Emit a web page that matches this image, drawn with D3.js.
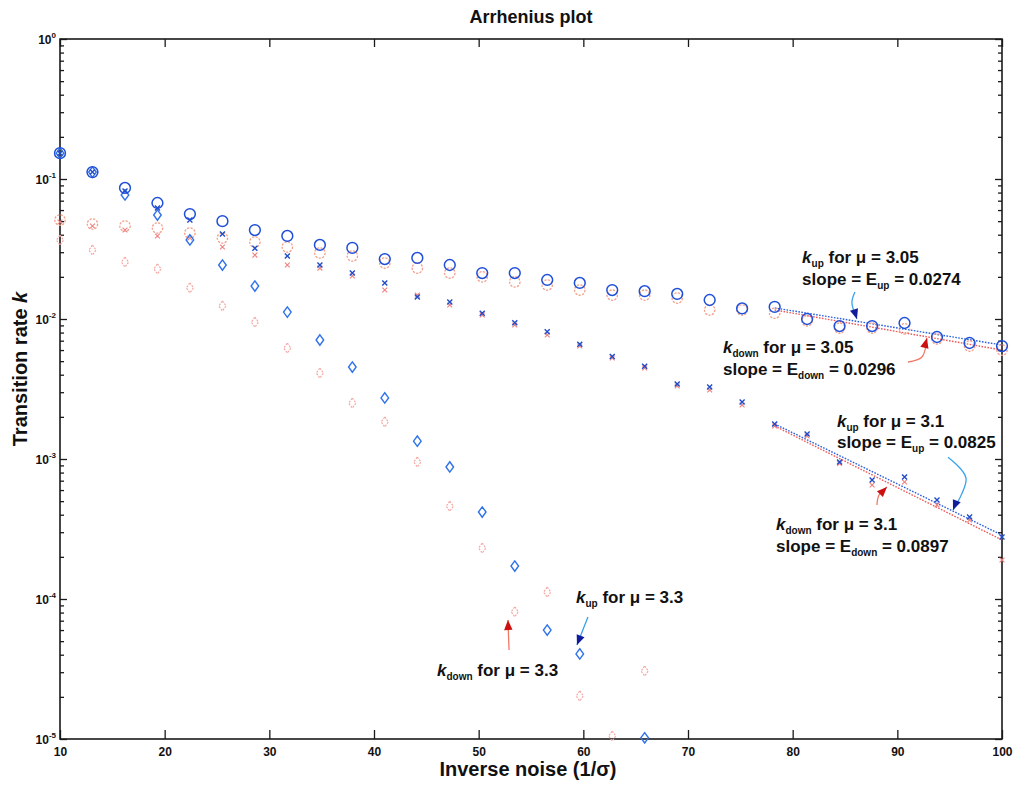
<!DOCTYPE html>
<html><head><meta charset="utf-8">
<script src="https://cdn.jsdelivr.net/npm/d3@7"></script>
<style>
body{margin:0;background:#fff}
svg{display:block}
text{font-family:"Liberation Sans",Arial,Helvetica,sans-serif;font-weight:bold;fill:#111}
</style>
</head><body>
<svg id="c" width="1013" height="787"></svg>
<script>
// ---------- data ----------
const inverseNoise = [10, 13.10, 16.21, 19.31, 22.41, 25.52, 28.62, 31.72, 34.83, 37.93,
  41.03, 44.14, 47.24, 50.34, 53.45, 56.55, 59.66, 62.76, 65.86, 68.97,
  72.07, 75.17, 78.28, 81.38, 84.48, 87.59, 90.69, 93.79, 96.90, 100];

const kUp305 = [0.153, 0.112, 0.0863, 0.0674, 0.0562, 0.0500, 0.0432, 0.0392, 0.0338, 0.0322,
  0.0268, 0.0273, 0.0243, 0.0213, 0.0213, 0.0190, 0.0181, 0.0161, 0.0158, 0.0151,
  0.01367, 0.0119, 0.0122, 0.0100, 0.0089, 0.0089, 0.00936, 0.00744, 0.00674, 0.00641];
const kDown305 = [0.0509, 0.0477, 0.0462, 0.0447, 0.0411, 0.0379, 0.0355, 0.0327, 0.0296, 0.0282,
  0.0251, 0.0231, 0.0213, 0.0200, 0.0184, 0.0175, 0.0161, 0.0148, 0.0148, 0.0141,
  0.0116, 0.0116, 0.0110, 0.0097, 0.0086, 0.0086, 0.0085, 0.0072, 0.0064, 0.0060];
const kUp31 = [0.153, 0.112, 0.082, 0.062, 0.051, 0.0405, 0.032, 0.0282, 0.0243, 0.0213,
  0.0181, 0.01436, 0.0132, 0.0110, 0.0094, 0.0081, 0.0066, 0.0054, 0.0046, 0.00343,
  0.00327, 0.00255, 0.00178, 0.00151, 0.00095, 0.000708, 0.000744, 0.00051, 0.000385, 0.000277];
const kDown31 = [0.0493, 0.0462, 0.0432, 0.0392, 0.0379, 0.0327, 0.0286, 0.0243, 0.0231, 0.0203,
  0.0161, 0.0148, 0.0126, 0.0107, 0.00906, 0.00769, 0.00641, 0.00527, 0.00447, 0.00332,
  0.00311, 0.00243, 0.00172, 0.00146, 0.00093, 0.000652, 0.000685, 0.000469, 0.000367, 0.00019];
const kUp33 = [0.153, 0.112, 0.0769, 0.0553, 0.0367, 0.0243, 0.0172, 0.0112, 0.00708, 0.00454,
  0.00273, 0.00134, 0.000877, 0.000418, 0.000172, 0.000060, 0.0000405, null, 0.0000102, null,
  null, null, null, null, null, null, null, null, null, null];
const kDown33 = [0.0366, 0.0311, 0.0255, 0.0228, 0.0167, 0.0124, 0.0095, 0.0062, 0.00411, 0.00251,
  0.00184, 0.000952, 0.00046, 0.000231, 0.000081, 0.000112, 0.0000203, 0.0000105, 0.0000306, null,
  null, null, null, null, null, null, null, null, null, null];

// fitted lines (start/end in data units)
const fitX = [78.28, 100];
const fitUp305 = [0.0120, 0.00652];
const fitDown305 = [0.0116, 0.0060];
const fitUp31 = [0.00178, 0.000286];
const fitDown31 = [0.00172, 0.000264];

// tick labels
const xTicks = [10, 20, 30, 40, 50, 60, 70, 80, 90, 100];
const yExponents = [0, -1, -2, -3, -4, -5];

// annotation texts
const annSub = ["up", "down", "up", "down", "up", "down"];
const annMu = ["3.05", "3.05", "3.1", "3.1", "3.3", "3.3"];
const annE = ["0.0274", "0.0296", "0.0825", "0.0897", null, null];

// ---------- layout ----------
const svg = d3.select("#c");
const x = d3.scaleLinear().domain([10, 100]).range([60, 1002]);
const y = d3.scaleLog().domain([1e-5, 1]).range([739, 39]);
const axisColor = "#1a1a1a";

// annotation anchor positions (data units) and arrow paths (data units)
const annPos = [[80.9, 0.0251], [73.34, 0.00571], [84.23, 0.001693], [78.41, 0.000311], [59.3, 0.0000936], [46.02, 0.0000282]];
const arrows = [
  {pts: [[85.95, 0.01559], [85.66, 0.0131], [86.14, 0.0100]], tail: "#3aa2ea", head: "#101c9c"},
  {pts: [[91.02, 0.00493], [92.35, 0.00535], [92.83, 0.00731]], tail: "#f07a68", head: "#cc1010"},
  {pts: [[94.84, 0.00103], [96.56, 0.000731], [95.32, 0.000432]], tail: "#3aa2ea", head: "#101c9c"},
  {pts: [[88.05, 0.000469], [88.25, 0.000553], [89.01, 0.000631]], tail: "#f07a68", head: "#cc1010"},
  {pts: [[60.44, 0.0000743], [59.39, 0.0000469]], tail: "#3aa2ea", head: "#101c9c"},
  {pts: [[52.9, 0.0000432], [52.8, 0.0000708]], tail: "#f07a68", head: "#cc1010"}
];

// ---------- axes ----------
const minorTicks = [];
for (let e = -5; e < 0; e++) for (let m = 2; m <= 9; m++) minorTicks.push(m * Math.pow(10, e));
const majorTicks = yExponents.map(e => Math.pow(10, e));

const gAx = svg.append("g");
gAx.append("g").attr("transform", `translate(0,${y.range()[0]})`)
  .call(d3.axisBottom(x).tickValues(xTicks).tickSize(-9).tickPadding(8).tickFormat(d3.format("d")))
  .call(g => g.select(".domain").remove())
  .call(g => g.selectAll("text").attr("font-size", 12).attr("font-family", "Liberation Sans, Arial, sans-serif").attr("font-weight", "bold").attr("fill", "#111"));
gAx.append("g").attr("transform", `translate(0,${y.range()[1]})`)
  .call(d3.axisTop(x).tickValues(xTicks).tickSize(-8).tickFormat(""))
  .call(g => g.select(".domain").remove());
gAx.append("g").attr("transform", `translate(${x.range()[0]},0)`)
  .call(d3.axisLeft(y).tickValues(majorTicks).tickSize(-7).tickFormat(""))
  .call(g => g.select(".domain").remove());
gAx.append("g").attr("transform", `translate(${x.range()[0]},0)`)
  .call(d3.axisLeft(y).tickValues(minorTicks).tickSize(-4).tickFormat(""))
  .call(g => g.select(".domain").remove());
gAx.append("g").attr("transform", `translate(${x.range()[1]},0)`)
  .call(d3.axisRight(y).tickValues(majorTicks).tickSize(-7).tickFormat(""))
  .call(g => g.select(".domain").remove());
gAx.append("g").attr("transform", `translate(${x.range()[1]},0)`)
  .call(d3.axisRight(y).tickValues(minorTicks).tickSize(-4).tickFormat(""))
  .call(g => g.select(".domain").remove());
gAx.selectAll(".tick line").attr("stroke", axisColor).attr("stroke-width", 1.3);

svg.append("rect").attr("x", x.range()[0]).attr("y", y.range()[1])
  .attr("width", x.range()[1] - x.range()[0]).attr("height", y.range()[0] - y.range()[1])
  .attr("fill", "none").attr("stroke", axisColor).attr("stroke-width", 1.6);

const yl = svg.append("g");
yExponents.forEach(e => {
  const t = yl.append("text").attr("x", 56).attr("y", y(Math.pow(10, e)) + 4.5)
    .attr("text-anchor", "end").attr("font-size", 12);
  t.append("tspan").text("10");
  t.append("tspan").attr("dy", -6).attr("font-size", 8).text(String(e));
});

svg.append("text").attr("x", (x.range()[0] + x.range()[1]) / 2).attr("y", 23)
  .attr("text-anchor", "middle").attr("font-size", 18).text("Arrhenius plot");
svg.append("text").attr("x", 528).attr("y", 776).attr("text-anchor", "middle")
  .attr("font-size", 20).text("Inverse noise (1/σ)");
const yt = svg.append("text").attr("transform", "translate(27,369) rotate(-90)")
  .attr("text-anchor", "middle").attr("font-size", 20);
yt.append("tspan").text("Transition rate ");
yt.append("tspan").attr("font-style", "italic").text("k");

// ---------- fitted lines ----------
const fits = [
  {k: fitDown305, c: "#ec5a5a"}, {k: fitUp305, c: "#2a60dc"},
  {k: fitDown31, c: "#ec5a5a"}, {k: fitUp31, c: "#2a60dc"}
];
const lineGen = d3.line().x(d => x(d[0])).y(d => y(d[1]));
fits.forEach(f => {
  svg.append("path").attr("d", lineGen(fitX.map((v, i) => [v, f.k[i]])))
    .attr("fill", "none").attr("stroke", f.c).attr("stroke-width", 1.4)
    .attr("stroke-dasharray", "1.6,1.4");
});

// ---------- markers ----------
const circ = r => `M${r},0A${r},${r},0,1,1,${-r},0A${r},${r},0,1,1,${r},0Z`;
const cross = s => `M${-s},${-s}L${s},${s}M${-s},${s}L${s},${-s}`;
const diamond = (w, h) => `M0,${-h}L${w},0L0,${h}L${-w},0Z`;

const series = [
  {vals: kDown33, path: diamond(3.6, 5), c: "#f4a8a4", w: 1.2, dash: "2,1.2"},
  {vals: kDown31, path: cross(2.4), c: "#f08080", w: 1.1, dash: null},
  {vals: kDown305, path: circ(5.2), c: "#f2a08a", w: 1.3, dash: "2.2,1.3"},
  {vals: kUp33, path: diamond(3.8, 5.2), c: "#2f72ea", w: 1.4, dash: null},
  {vals: kUp31, path: cross(2.5), c: "#1f4cc8", w: 1.4, dash: null},
  {vals: kUp305, path: circ(5.4), c: "#1f4fd8", w: 1.5, dash: null}
];
series.forEach(s => {
  svg.append("g").selectAll("path")
    .data(inverseNoise.map((v, i) => [v, s.vals[i]]).filter(d => d[1] != null))
    .join("path")
    .attr("transform", d => `translate(${x(d[0])},${y(d[1])})`)
    .attr("d", s.path).attr("fill", "none").attr("stroke", s.c)
    .attr("stroke-width", s.w).attr("stroke-dasharray", s.dash);
});

// ---------- annotations ----------
annPos.forEach((p, i) => {
  const t = svg.append("text").attr("x", x(p[0])).attr("y", y(p[1])).attr("font-size", 17);
  t.append("tspan").attr("font-style", "italic").text("k");
  t.append("tspan").attr("font-size", 10).attr("dy", 4).text(annSub[i]);
  t.append("tspan").attr("dy", -4).text(" for μ = " + annMu[i]);
  if (annE[i]) {
    const t2 = svg.append("text").attr("x", x(p[0])).attr("y", y(p[1]) + 21.5).attr("font-size", 17);
    t2.append("tspan").text("slope = E");
    t2.append("tspan").attr("font-size", 10).attr("dy", 4).text(annSub[i]);
    t2.append("tspan").attr("dy", -4).text(" = " + annE[i]);
  }
});

// ---------- arrows ----------
const curveGen = d3.line().x(d => x(d[0])).y(d => y(d[1])).curve(d3.curveCatmullRom);
arrows.forEach(a => {
  const pts = a.pts;
  svg.append("path").attr("d", curveGen(pts)).attr("fill", "none")
    .attr("stroke", a.tail).attr("stroke-width", 1.3);
  const p1 = pts[pts.length - 1], p0 = pts[pts.length - 2];
  const tx = x(p1[0]), ty = y(p1[1]);
  const ang = Math.atan2(ty - y(p0[1]), tx - x(p0[0]));
  const L = 10, Wd = 4.2;
  const bx = tx - L * Math.cos(ang), by = ty - L * Math.sin(ang);
  const nx = -Math.sin(ang) * Wd, ny = Math.cos(ang) * Wd;
  svg.append("path").attr("d", `M${tx},${ty}L${bx + nx},${by + ny}L${bx - nx},${by - ny}Z`)
    .attr("fill", a.head);
});
</script>
</body></html>
